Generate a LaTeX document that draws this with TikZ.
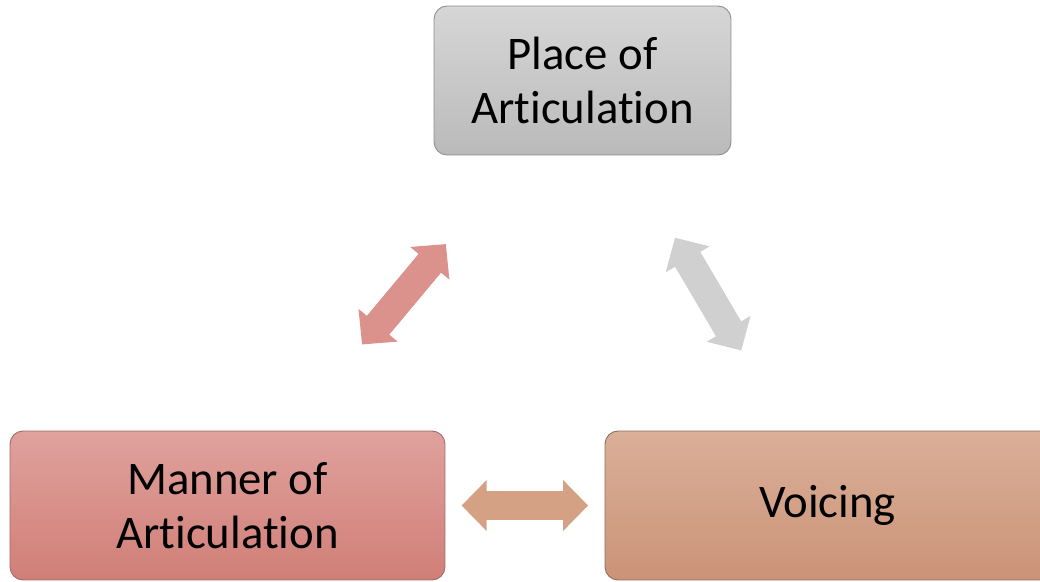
\documentclass[tikz,border=0pt]{standalone}
\usepackage{fontspec}
\setmainfont{Carlito}[Ligatures={NoCommon,NoDiscretionary,NoContextual}]
\usepackage{tikz}
\usetikzlibrary{arrows.meta,calc,positioning}

\definecolor{placetop}{HTML}{D6D6D6}
\definecolor{placebot}{HTML}{BABABA}
\definecolor{placeline}{HTML}{8C8C8C}
\definecolor{mannertop}{HTML}{E0A19D}
\definecolor{mannerbot}{HTML}{D07F77}
\definecolor{mannerline}{HTML}{9A6A66}
\definecolor{voicetop}{HTML}{DAAF98}
\definecolor{voicebot}{HTML}{CB9378}
\definecolor{voiceline}{HTML}{8E6B5A}
\definecolor{mparrow}{HTML}{DB928C}
\definecolor{pvarrow}{HTML}{D0D0D0}
\definecolor{mvarrow}{HTML}{D4A185}

\tikzset{
  phonbox/.style={rectangle, rounded corners=0.26cm, line width=0.5pt,
    minimum height=2.98cm, align=center, text=black,
    font=\fontsize{26.6}{30.6}\selectfont, shading=axis},
  fatarrow/.style={line width=0.58cm,
    {Triangle[length=0.5cm,width=1.02cm,line width=0pt]}-{Triangle[length=0.5cm,width=1.02cm,line width=0pt]},
    postaction={draw, -, shorten <=0.45cm, shorten >=0.45cm}}
}

\begin{document}
\begin{tikzpicture}[x=0.02cm,y=-0.02cm]
\useasboundingbox (0,0) rectangle (1040,581);
\node [phonbox, minimum width=5.94cm, top color=placetop, bottom color=placebot, draw=placeline] (place) at (582.5,80.5) {Place of\\Articulation};
\node [phonbox, minimum width=8.7cm, top color=mannertop, bottom color=mannerbot, draw=mannerline] (manner) at (227.5,505.5) {Manner of\\Articulation};
\node [phonbox, minimum width=9.1cm, top color=voicetop, bottom color=voicebot, draw=voiceline] (voice) at (832.5,505.5) {\hspace*{-0.2cm}Voicing};
% double arrows between the boxes
\coordinate (mp1) at ($(manner)!0.379!(place)$);
\coordinate (mp2) at ($(manner)!0.615!(place)$);
\coordinate (pv1) at ($(place)!0.37!(voice)$);
\coordinate (pv2) at ($(place)!0.635!(voice)$);
\coordinate (mv1) at ($(manner)!0.387!(voice)$);
\coordinate (mv2) at ($(manner)!0.596!(voice)$);
\draw [fatarrow, mparrow] (mp1) -- (mp2);
\draw [fatarrow, pvarrow] (pv1) -- (pv2);
\draw [fatarrow, mvarrow] (mv1) -- (mv2);
\end{tikzpicture}
\end{document}
